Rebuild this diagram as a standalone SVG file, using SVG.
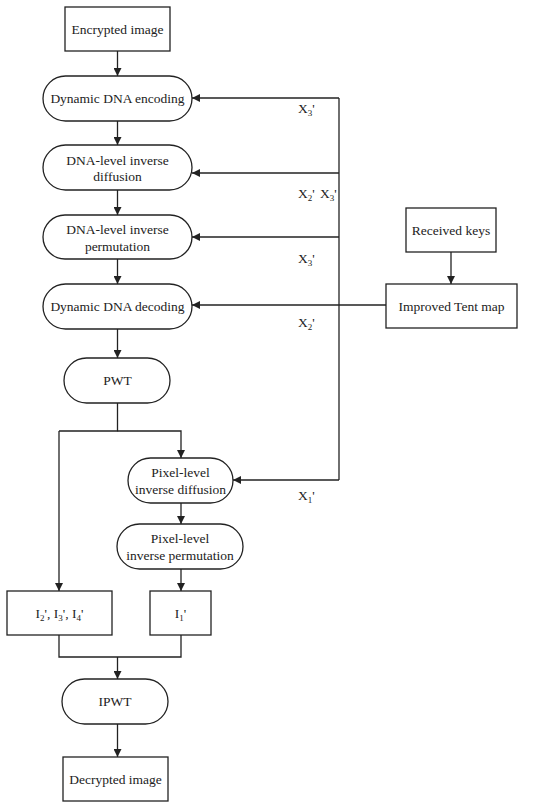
<svg xmlns="http://www.w3.org/2000/svg" width="550" height="810" viewBox="0 0 550 810">
<defs>
<marker id="ah" viewBox="0 0 10 10" refX="10" refY="5" markerWidth="8" markerHeight="8" markerUnits="userSpaceOnUse" orient="auto">
<path d="M0,0 L10,5 L0,10 z" fill="#222"/>
</marker>
</defs>
<style>
.box{fill:#fff;stroke:#222;stroke-width:1.3}
.t{font-family:"Liberation Serif","Times New Roman",serif;font-size:13.5px;fill:#222;text-anchor:middle}
.l{font-family:"Liberation Serif","Times New Roman",serif;font-size:13.5px;fill:#222}
.s{font-size:9px}
.c{fill:none;stroke:#222;stroke-width:1.3}
.a{fill:none;stroke:#222;stroke-width:1.3;marker-end:url(#ah)}
</style>
<rect width="550" height="810" fill="#fff"/>
<g id="connectors">
<line class="a" x1="117.5" y1="51" x2="117.5" y2="76"/>
<line class="a" x1="117.5" y1="121" x2="117.5" y2="145"/>
<line class="a" x1="117.5" y1="190" x2="117.5" y2="215"/>
<line class="a" x1="117.5" y1="259" x2="117.5" y2="284"/>
<line class="a" x1="117.5" y1="329" x2="117.5" y2="358"/>
<line class="a" x1="451" y1="252" x2="451" y2="284"/>
<line class="c" x1="339" y1="98" x2="339" y2="480"/>
<line class="a" x1="339" y1="98" x2="192" y2="98"/>
<line class="a" x1="339" y1="173" x2="192" y2="173"/>
<line class="a" x1="339" y1="237" x2="192" y2="237"/>
<line class="a" x1="386" y1="305" x2="192" y2="305"/>
<line class="a" x1="339" y1="480" x2="233" y2="480"/>
<polyline class="c" points="117.5,403 117.5,431 59,431"/>
<polyline class="a" points="59,431 59,591"/>
<polyline class="a" points="117.5,431 181,431 181,458"/>
<line class="a" x1="181" y1="503" x2="181" y2="524"/>
<line class="a" x1="181" y1="569" x2="181" y2="591"/>
<polyline class="c" points="59,635 59,657 181,657 181,635"/>
<line class="a" x1="117.5" y1="657" x2="117.5" y2="679"/>
<line class="a" x1="117.5" y1="724" x2="117.5" y2="757"/>
</g>
<g id="labels">
<text class="l" x="298" y="113">X<tspan class="s" dy="3">3</tspan><tspan dy="-3">'</tspan></text>
<text class="l" x="298" y="198">X<tspan class="s" dy="3">2</tspan><tspan dy="-3">'</tspan></text>
<text class="l" x="320" y="198">X<tspan class="s" dy="3">3</tspan><tspan dy="-3">'</tspan></text>
<text class="l" x="298" y="263">X<tspan class="s" dy="3">3</tspan><tspan dy="-3">'</tspan></text>
<text class="l" x="298" y="327">X<tspan class="s" dy="3">2</tspan><tspan dy="-3">'</tspan></text>
<text class="l" x="298" y="500">X<tspan class="s" dy="3">1</tspan><tspan dy="-3">'</tspan></text>
</g>
<g id="encrypted">
<rect class="box" x="65" y="7" width="105" height="44"/>
<text class="t" x="117.5" y="34">Encrypted image</text>
</g>
<g id="encoding">
<rect class="box" x="43" y="76" width="149" height="45" rx="22.5"/>
<text class="t" x="117.5" y="103">Dynamic DNA encoding</text>
</g>
<g id="diffusion">
<rect class="box" x="43" y="145" width="149" height="45" rx="22.5"/>
<text class="t" x="117.5" y="165">DNA-level inverse</text>
<text class="t" x="117.5" y="181">diffusion</text>
</g>
<g id="permutation">
<rect class="box" x="43" y="215" width="149" height="44" rx="22"/>
<text class="t" x="117.5" y="234">DNA-level inverse</text>
<text class="t" x="117.5" y="251">permutation</text>
</g>
<g id="decoding">
<rect class="box" x="43" y="284" width="149" height="45" rx="22.5"/>
<text class="t" x="117.5" y="311">Dynamic DNA decoding</text>
</g>
<g id="keys">
<rect class="box" x="406" y="208" width="90" height="44"/>
<text class="t" x="451" y="235">Received keys</text>
</g>
<g id="tent">
<rect class="box" x="386" y="284" width="131" height="44"/>
<text class="t" x="451.5" y="311">Improved Tent map</text>
</g>
<g id="pwt">
<rect class="box" x="64" y="358" width="106" height="45" rx="22.5"/>
<text class="t" x="117.5" y="385">PWT</text>
</g>
<g id="pixdiff">
<rect class="box" x="128" y="458" width="105" height="45" rx="22.5"/>
<text class="t" x="180.5" y="477">Pixel-level</text>
<text class="t" x="180.5" y="494">inverse diffusion</text>
</g>
<g id="pixperm">
<rect class="box" x="117" y="524" width="126" height="45" rx="22.5"/>
<text class="t" x="180" y="543">Pixel-level</text>
<text class="t" x="180" y="560">inverse permutation</text>
</g>
<g id="i234">
<rect class="box" x="7" y="591" width="105" height="44"/>
<text class="t" x="59.5" y="618">I<tspan class="s" dy="3">2</tspan><tspan dy="-3">', I</tspan><tspan class="s" dy="3">3</tspan><tspan dy="-3">', I</tspan><tspan class="s" dy="3">4</tspan><tspan dy="-3">'</tspan></text>
</g>
<g id="i1">
<rect class="box" x="150" y="591" width="61" height="44"/>
<text class="t" x="180.5" y="618">I<tspan class="s" dy="3">1</tspan><tspan dy="-3">'</tspan></text>
</g>
<g id="ipwt">
<rect class="box" x="62" y="679" width="106" height="45" rx="22.5"/>
<text class="t" x="115" y="706">IPWT</text>
</g>
<g id="decrypted">
<rect class="box" x="63" y="757" width="105" height="44"/>
<text class="t" x="115.5" y="784">Decrypted image</text>
</g>
</svg>
